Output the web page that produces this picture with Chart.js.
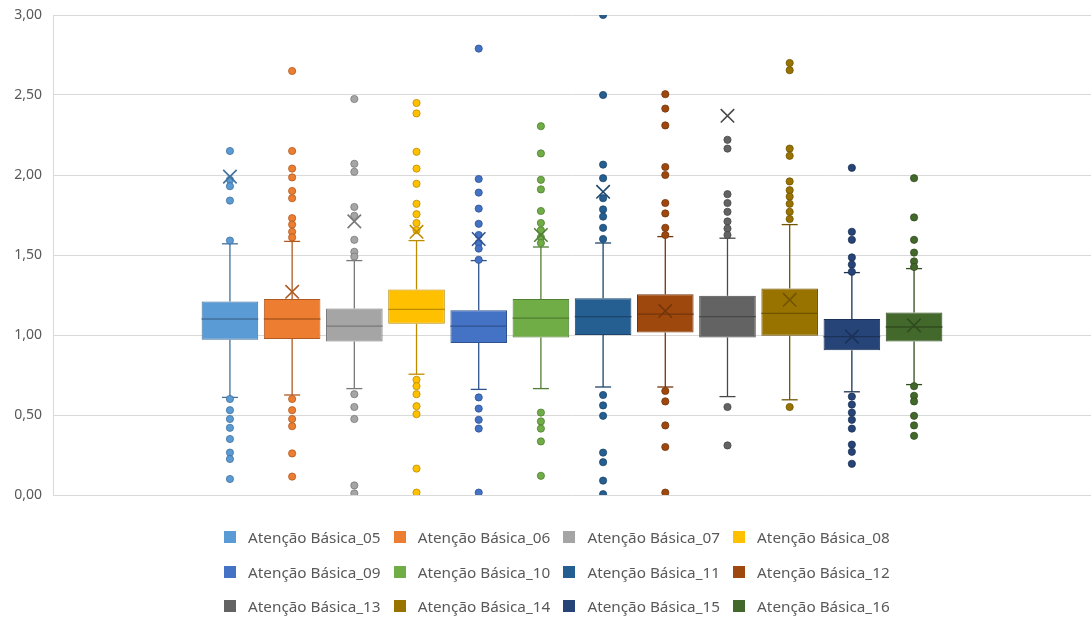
<!DOCTYPE html>
<html>
<head>
<meta charset="utf-8">
<script src="https://cdn.jsdelivr.net/npm/chart.js@4"></script>
<style>
  html, body { margin: 0; padding: 0; background: #fff; overflow: hidden; }
  #wrap { position: relative; width: 1091px; height: 618px; overflow: hidden; }
  #chart { display: block; }
  #legend { position: absolute; left: 0; top: 0; width: 1091px; height: 618px; pointer-events: none; }
  .item { position: absolute; display: flex; align-items: center; height: 20px;
          font-family: "Noto Sans", sans-serif; font-size: 15.3px; color: #595959; white-space: nowrap; }
  .swatch { width: 12px; height: 12px; margin-right: 12px; }
</style>
</head>
<body>
<div id="wrap">
  <canvas id="chart" width="1091" height="618"></canvas>
  <div id="legend"></div>
</div>
<script>
// series names
const series = ['Atenção Básica_05', 'Atenção Básica_06', 'Atenção Básica_07', 'Atenção Básica_08',
  'Atenção Básica_09', 'Atenção Básica_10', 'Atenção Básica_11', 'Atenção Básica_12',
  'Atenção Básica_13', 'Atenção Básica_14', 'Atenção Básica_15', 'Atenção Básica_16'];

// box statistics
const q1 =          [0.97, 0.975, 0.96, 1.07, 0.95, 0.985, 1.00, 1.015, 0.985, 0.995, 0.905, 0.96];
const median =      [1.10, 1.10, 1.055, 1.16, 1.055, 1.105, 1.115, 1.13, 1.115, 1.135, 0.99, 1.05];
const q3 =          [1.21, 1.225, 1.165, 1.285, 1.155, 1.225, 1.23, 1.255, 1.245, 1.29, 1.10, 1.14];
const whiskerLow =  [0.61, 0.625, 0.665, 0.755, 0.66, 0.665, 0.675, 0.675, 0.615, 0.595, 0.645, 0.69];
const whiskerHigh = [1.57, 1.585, 1.465, 1.59, 1.465, 1.55, 1.575, 1.615, 1.605, 1.69, 1.39, 1.415];
const means =       [1.99, 1.27, 1.71, 1.645, 1.60, 1.625, 1.895, 1.15, 2.37, 1.22, 0.99, 1.06];

const outliers = [
  [2.15, 1.97, 1.93, 1.84, 1.59, 0.60, 0.53, 0.475, 0.42, 0.35, 0.265, 0.225, 0.10],
  [2.65, 2.15, 2.04, 1.985, 1.90, 1.855, 1.73, 1.69, 1.645, 1.61, 0.60, 0.53, 0.475, 0.43, 0.26, 0.115],
  [2.475, 2.07, 2.02, 1.80, 1.745, 1.595, 1.52, 1.49, 0.63, 0.55, 0.475, 0.06, 0.01],
  [2.45, 2.385, 2.145, 2.04, 1.945, 1.82, 1.755, 1.70, 1.655, 0.72, 0.68, 0.63, 0.555, 0.505, 0.165, 0.015],
  [2.79, 1.975, 1.89, 1.79, 1.695, 1.625, 1.575, 1.54, 1.47, 0.61, 0.54, 0.47, 0.415, 0.015],
  [2.305, 2.135, 1.97, 1.91, 1.775, 1.70, 1.655, 1.61, 1.575, 0.515, 0.46, 0.415, 0.335, 0.12],
  [3.00, 2.50, 2.065, 1.98, 1.855, 1.785, 1.74, 1.67, 1.60, 0.625, 0.56, 0.495, 0.265, 0.205, 0.09, 0.005],
  [2.505, 2.415, 2.31, 2.05, 2.00, 1.825, 1.76, 1.67, 1.625, 0.65, 0.585, 0.435, 0.30, 0.015],
  [2.22, 2.165, 1.88, 1.825, 1.77, 1.71, 1.665, 1.625, 0.55, 0.31],
  [2.70, 2.655, 2.165, 2.12, 1.96, 1.905, 1.865, 1.82, 1.77, 1.725, 0.55],
  [2.045, 1.645, 1.595, 1.485, 1.44, 1.395, 0.615, 0.565, 0.515, 0.47, 0.415, 0.315, 0.27, 0.195],
  [1.98, 1.735, 1.595, 1.515, 1.46, 1.425, 0.68, 0.62, 0.585, 0.495, 0.435, 0.37]
];

// y axis ticks
const yTicks = [0, 0.5, 1, 1.5, 2, 2.5, 3];

const fillColors = ['#5B9BD5', '#ED7D31', '#A5A5A5', '#FFC000', '#4472C4', '#70AD47',
  '#255E91', '#9E480E', '#636363', '#997300', '#264478', '#43682B'];
const lineColors = ['#41719C', '#AE5A21', '#787878', '#BC8C00', '#2F528F', '#507E32',
  '#1B456A', '#73350A', '#484848', '#705400', '#1B3157', '#314C1F'];

const n = series.length;
const datasets = [];

// boxes as floating bars
series.forEach((name, i) => {
  datasets.push({
    type: 'bar',
    label: name,
    data: [{ x: i + 1, y: [q1[i], q3[i]] }],
    backgroundColor: fillColors[i],
    borderColor: lineColors[i],
    borderWidth: 1,
    borderSkipped: false,
    grouped: false,
    barPercentage: 0.91,
    categoryPercentage: 1,
    order: 2
  });
});

// outlier points
series.forEach((name, i) => {
  datasets.push({
    type: 'scatter',
    label: name + ' outliers',
    data: outliers[i].map(v => ({ x: i + 1, y: v })),
    backgroundColor: fillColors[i],
    borderColor: lineColors[i],
    borderWidth: 0.8,
    pointRadius: 3.6,
    order: 1
  });
});

// mean markers
series.forEach((name, i) => {
  datasets.push({
    type: 'scatter',
    label: name + ' mean',
    data: [{ x: i + 1, y: means[i] }],
    pointStyle: 'crossRot',
    pointRadius: 9.5,
    borderColor: lineColors[i],
    borderWidth: 1.6,
    order: 0
  });
});

// whiskers and median line, drawn right after each box
const boxPlugin = {
  id: 'boxWhiskers',
  afterDatasetDraw(chart, args) {
    const i = args.index;
    if (i >= n) return;
    const bar = args.meta.data[0];
    if (!bar) return;
    const yScale = chart.scales.y;
    const ctx = chart.ctx;
    const half = bar.width / 2;
    const cap = 8;
    const py = v => yScale.getPixelForValue(v);
    const seg = (x1, y1, x2, y2) => { ctx.beginPath(); ctx.moveTo(x1, y1); ctx.lineTo(x2, y2); ctx.stroke(); };
    ctx.save();
    ctx.strokeStyle = lineColors[i];
    ctx.lineWidth = 1.3;
    seg(bar.x - half, py(median[i]), bar.x + half, py(median[i]));
    seg(bar.x, py(q3[i]), bar.x, py(whiskerHigh[i]));
    seg(bar.x, py(q1[i]), bar.x, py(whiskerLow[i]));
    seg(bar.x - cap, py(whiskerHigh[i]), bar.x + cap, py(whiskerHigh[i]));
    seg(bar.x - cap, py(whiskerLow[i]), bar.x + cap, py(whiskerLow[i]));
    ctx.restore();
  }
};

new Chart(document.getElementById('chart'), {
  type: 'bar',
  data: { datasets: datasets },
  plugins: [boxPlugin],
  options: {
    responsive: false,
    animation: false,
    layout: { autoPadding: false, padding: { top: 15, right: 0, bottom: 123, left: 0 } },
    plugins: {
      legend: { display: false },
      tooltip: { enabled: false }
    },
    scales: {
      x: {
        type: 'linear',
        display: false,
        offset: false,
        min: -1.845,
        max: 14.845
      },
      y: {
        min: 0,
        max: 3,
        afterFit: (scale) => { scale.width = 53; },
        afterBuildTicks: (scale) => { scale.ticks = yTicks.map(v => ({ value: v })); },
        grid: { color: '#d9d9d9', lineWidth: 1, drawTicks: true, tickLength: 11, tickColor: 'rgba(0,0,0,0)' },
        border: { display: true, color: '#d9d9d9' },
        ticks: {
          padding: 0,
          color: '#595959',
          font: { family: 'Noto Sans', size: 14 },
          callback: (v) => v.toFixed(2).replace('.', ',')
        }
      }
    }
  }
});

// html legend in a 4-column grid
const legend = document.getElementById('legend');
series.forEach((name, i) => {
  const item = document.createElement('div');
  item.className = 'item';
  item.style.left = (224 + (i % 4) * 169.7) + 'px';
  item.style.top = (527 + Math.floor(i / 4) * 34.5) + 'px';
  const sw = document.createElement('span');
  sw.className = 'swatch';
  sw.style.background = fillColors[i];
  const txt = document.createElement('span');
  txt.textContent = name;
  item.appendChild(sw);
  item.appendChild(txt);
  legend.appendChild(item);
});
</script>
</body>
</html>
